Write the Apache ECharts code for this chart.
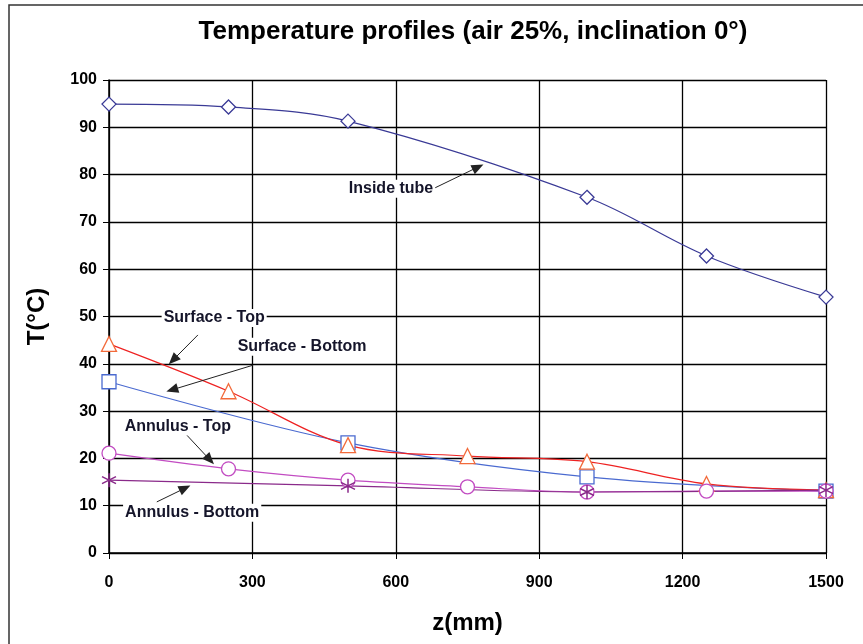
<!DOCTYPE html>
<html>
<head>
<meta charset="utf-8">
<script src="https://cdn.jsdelivr.net/npm/echarts@6/dist/echarts.min.js"></script>
<style>
  html, body { margin: 0; padding: 0; background: #fff; }
  #chart { width: 863px; height: 644px; }
</style>
</head>
<body>
<div id="chart"></div>
<script>
// positions along the tube (mm)
var zInside = [0, 250, 500, 1000, 1250, 1500];
var tInside = [94.9, 94.3, 91.3, 75.2, 62.8, 54.1];

var zSurfTop = [0, 250, 500, 750, 1000, 1250, 1500];
var tSurfTop = [44.2, 34.2, 22.8, 20.5, 19.3, 14.6, 13.3];

var zSurfBot = [0, 500, 1000, 1500];
var tSurfBot = [36.2, 23.3, 16.1, 13.1];

var zAnnTop = [0, 250, 500, 750, 1000, 1250, 1500];
var tAnnTop = [21.1, 17.8, 15.4, 14.0, 12.9, 13.1, 13.1];

var zAnnBot = [0, 500, 1000, 1500];
var tAnnBot = [15.4, 14.2, 12.9, 13.3];

// annotation labels: [text, z, T]
var labels = [
    ['Inside tube', 590, 77.0],
    ['Surface - Top', 220, 49.7],
    ['Surface - Bottom', 404, 43.6],
    ['Annulus - Top', 144, 26.8],
    ['Annulus - Bottom', 174, 8.5]
];
// arrows: [zFrom, TFrom, zTo, TTo]
var arrows = [
    [682, 77.2, 772, 81.6],
    [186, 46.1, 134, 40.8],
    [301, 39.7, 132, 34.5],
    [163, 24.9, 211, 19.7],
    [100, 10.8, 159, 13.7]
];

function pairs(xs, ys) {
    return xs.map(function (x, i) { return [x, ys[i]]; });
}

var asterisk = 'path://M5,0L5,10M0.7,2.5L9.3,7.5M9.3,2.5L0.7,7.5';
var boldFont = {fontFamily: 'Liberation Sans', fontWeight: 'bold', color: '#000'};

var chart = echarts.init(document.getElementById('chart'));

var lineSeries = function (name, xs, ys, lineColor, markColor, symbol, size) {
    return {
        name: name,
        type: 'line',
        smooth: 0.35,
        data: pairs(xs, ys),
        symbol: symbol,
        symbolSize: size,
        showAllSymbol: true,
        lineStyle: {color: lineColor, width: 1.2},
        itemStyle: {color: '#fff', borderColor: markColor, borderWidth: 1.3},
        z: 3
    };
};

var series = [
    lineSeries('Inside tube', zInside, tInside, '#3a3a96', '#3a3a96', 'diamond', 14),
    lineSeries('Surface - Bottom', zSurfBot, tSurfBot, '#4a6ad0', '#4a6ad0', 'rect', 14),
    lineSeries('Surface - Top', zSurfTop, tSurfTop, '#ee2222', '#f26a3a', 'triangle', 15),
    lineSeries('Annulus - Top', zAnnTop, tAnnTop, '#c24cc2', '#c24cc2', 'circle', 14),
    lineSeries('Annulus - Bottom', zAnnBot, tAnnBot, '#8a2a8a', '#8a2a8a', asterisk, 14)
];
series[4].itemStyle = {color: 'none', borderColor: '#8a2a8a', borderWidth: 1.5};

// annotations: text + arrows, placed in data coordinates
series.push({
    name: 'notes',
    type: 'scatter',
    data: labels.map(function (l) { return [l[1], l[2], l[0]]; }),
    symbolSize: 0,
    itemStyle: {opacity: 1},
    z: 5,
    label: {
        show: true,
        position: 'inside',
        formatter: function (p) { return p.data[2]; },
        color: '#15152a',
        opacity: 1,
        fontFamily: 'Liberation Sans',
        fontWeight: 'bold',
        fontSize: 16,
        backgroundColor: '#fff',
        padding: [1, 2]
    },
    markLine: {
        silent: true,
        symbol: ['none', 'triangle'],
        symbolSize: [10, 12],
        lineStyle: {color: '#222', width: 1, type: 'solid', opacity: 1},
        label: {show: false},
        data: arrows.map(function (a) {
            return [{coord: [a[0], a[1]]}, {coord: [a[2], a[3]]}];
        })
    }
});

chart.setOption({
    animation: false,
    backgroundColor: '#fff',
    title: {
        text: 'Temperature profiles (air 25%, inclination 0°)',
        left: 468,
        top: 14,
        textAlign: 'center',
        textStyle: Object.assign({fontSize: 26}, boldFont)
    },
    graphic: [{
        type: 'rect',
        shape: {x: 9, y: 5, width: 870, height: 660},
        style: {fill: 'none', stroke: '#333', lineWidth: 1.5},
        silent: true
    }],
    grid: {left: 109, right: 37, top: 80, bottom: 91},
    xAxis: {
        type: 'value',
        min: 0, max: 1500, interval: 300,
        name: 'z(mm)',
        nameLocation: 'middle',
        nameGap: 58,
        nameTextStyle: Object.assign({fontSize: 24}, boldFont),
        axisLine: {lineStyle: {color: '#000', width: 1.5}},
        axisTick: {show: true, length: 6, lineStyle: {color: '#000'}},
        axisLabel: Object.assign({fontSize: 16, margin: 22, formatter: function (v) { return String(v); }}, boldFont),
        splitLine: {show: true, lineStyle: {color: '#000', width: 1.3}}
    },
    yAxis: {
        type: 'value',
        min: 0, max: 100, interval: 10,
        name: 'T(°C)',
        nameLocation: 'middle',
        nameGap: 60,
        nameTextStyle: Object.assign({fontSize: 24}, boldFont),
        axisLine: {show: true, lineStyle: {color: '#000', width: 1.5}},
        axisTick: {show: true, length: 6, lineStyle: {color: '#000'}},
        axisLabel: Object.assign({fontSize: 16, margin: 12}, boldFont),
        splitLine: {show: true, lineStyle: {color: '#000', width: 1.3}}
    },
    series: series
});
</script>
</body>
</html>
